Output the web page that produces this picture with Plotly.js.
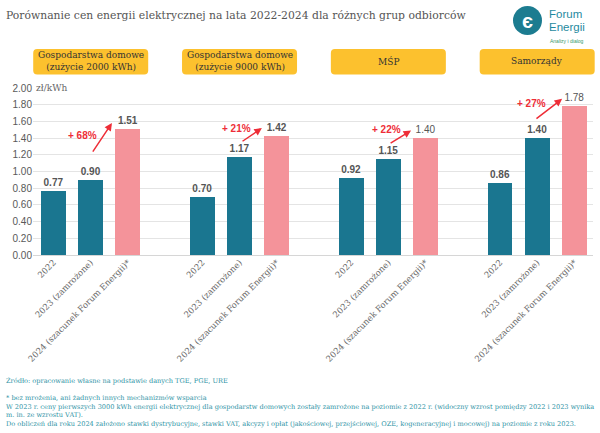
<!DOCTYPE html>
<html>
<head>
<meta charset="utf-8">
<script src="https://cdn.plot.ly/plotly-3.0.1.min.js"></script>
<style>html,body{margin:0;padding:0;background:#fff;}#chart{width:600px;height:433px;}</style>
</head>
<body>
<div id="chart"></div>
<script>
// ---- data ----
const groups = ["Gospodarstwa domowe<br>(zużycie 2000 kWh)", "Gospodarstwa domowe<br>(zużycie 9000 kWh)", "MŚP", "Samorządy"];
const periods = ["2022", "2023 (zamrożone)", "2024 (szacunek Forum Energii)*"];
const v2022 = [0.77, 0.70, 0.92, 0.86];
const v2023 = [0.90, 1.17, 1.15, 1.40];
const v2024 = [1.51, 1.42, 1.40, 1.78];
const increases = ["+ 68%", "+ 21%", "+ 22%", "+ 27%"];
const yTicks = [0, 0.2, 0.4, 0.6, 0.8, 1.0, 1.2, 1.4, 1.6, 1.8, 2.0];
const unitLabel = "zł/kWh";
const title = "Porównanie cen energii elektrycznej na lata 2022-2024 dla różnych grup odbiorców";
const footer = [
  "Źródło: opracowanie własne na podstawie danych TGE, PGE, URE",
  "* bez mrożenia, ani żadnych innych mechanizmów wsparcia",
  "W 2023 r. ceny pierwszych 3000 kWh energii elektrycznej dla gospodarstw domowych zostały zamrożone na poziomie z 2022 r. (widoczny wzrost pomiędzy 2022 i 2023 wynika",
  "m. in. ze wzrostu VAT).",
  "Do obliczeń dla roku 2024 założono stawki dystrybucyjne, stawki VAT, akcyzy i opłat (jakościowej, przejściowej, OZE, kogeneracyjnej i mocowej) na poziomie z roku 2023."
];

// ---- layout helpers ----
const W = 600, H = 433, ML = 33, MR = 7, MT = 88, MB = 178;
const PW = W - ML - MR, PH = H - MT - MB;
const px = x => (x - ML) / PW;
const py = y => (H - MB - y) / PH;

const TEAL = "#1a7690", PINK = "#f4939a", RED = "#ee2d37", YEL = "#fcc12e";
const SERIF = "DejaVu Serif, serif";
const SANS = "Liberation Sans, Arial, sans-serif";

const tealX = [], tealY = [], pinkX = [], pinkY = [];
const tickvals = [], ticktext = [];
groups.forEach((g, i) => {
  const base = i * 4;
  tealX.push(base, base + 1); tealY.push(v2022[i], v2023[i]);
  pinkX.push(base + 2); pinkY.push(v2024[i]);
  periods.forEach((p, j) => { tickvals.push(base + j); ticktext.push(p); });
});

const barCommon = {
  type: "bar", width: 0.67, textposition: "outside", cliponaxis: false,
  texttemplate: "%{y:.2f}", hoverinfo: "skip",
  textfont: {family: SANS, size: 10, color: "#555", weight: "bold"}
};
const traces = [
  Object.assign({}, barCommon, {x: tealX, y: tealY, marker: {color: TEAL}}),
  Object.assign({}, barCommon, {x: pinkX, y: pinkY, marker: {color: PINK},
    textfont: {family: SANS, size: 10, color: "#555", weight: ["bold", "bold", "normal", "normal"]}})
];

const annotations = [];
const shapes = [];
function note(x, y, text, font, extra) {
  annotations.push(Object.assign({xref: "paper", yref: "paper", x: px(x), y: py(y), text: text, showarrow: false,
    xanchor: "center", yanchor: "middle", font: font}, extra || {}));
}

// title
note(4, 16, title, {family: SERIF, size: 10.8, color: "#555"}, {xanchor: "left"});

// logo
shapes.push({type: "circle", xref: "paper", yref: "paper", x0: px(513), x1: px(542), y0: py(6), y1: py(35),
  fillcolor: "#1c7c90", line: {width: 0}});
note(527.5, 20.5, "<b>є</b>", {family: SANS, size: 20, color: "#fff"});
note(547, 14, "Forum", {family: SANS, size: 11.5, color: "#1f8aa0"}, {xanchor: "left"});
note(547, 27, "Energii", {family: SANS, size: 11.5, color: "#1f8aa0"}, {xanchor: "left"});
note(548, 41, "Analizy i dialog", {family: SANS, size: 5, color: "#3a9a6a"}, {xanchor: "left"});

// header boxes
function roundRect(x0, y0, x1, y1, r) {
  const P = (x, y) => px(x) + "," + py(y);
  return "M" + P(x0 + r, y0) + " L" + P(x1 - r, y0) + " Q" + P(x1, y0) + " " + P(x1, y0 + r) +
    " L" + P(x1, y1 - r) + " Q" + P(x1, y1) + " " + P(x1 - r, y1) +
    " L" + P(x0 + r, y1) + " Q" + P(x0, y1) + " " + P(x0, y1 - r) +
    " L" + P(x0, y0 + r) + " Q" + P(x0, y0) + " " + P(x0 + r, y0) + " Z";
}
const xToPx = x => ML + (x + 0.551) / 15.051 * PW;
groups.forEach((g, i) => {
  const c = xToPx(i * 4 + 1);
  shapes.push({type: "path", xref: "paper", yref: "paper", path: roundRect(c - 57.5, 49, c + 57.5, 74.5, 4),
    fillcolor: YEL, line: {width: 0}});
  note(c, 61.5, g, {family: SERIF, size: 9, color: "#333"});
});

// unit label
annotations.push({xref: "paper", yref: "y", x: 0, y: 2.0, xanchor: "left", yanchor: "middle", text: unitLabel,
  showarrow: false, bgcolor: "#fff", borderpad: 2, font: {family: SERIF, size: 9, color: "#666"}});

// increase arrows and labels
const arrowTail = [[1.03, 1.22], [5.04, 1.35], [9.02, 1.33], [12.94, 1.62]];
const arrowHead = [[1.57, 1.58], [5.60, 1.52], [9.61, 1.49], [13.67, 1.87]];
const pctPos = [[0.79, 1.43], [4.93, 1.51], [8.96, 1.50], [12.86, 1.82]];
increases.forEach((t, i) => {
  annotations.push({xref: "x", yref: "y", axref: "x", ayref: "y", x: arrowHead[i][0], y: arrowHead[i][1],
    ax: arrowTail[i][0], ay: arrowTail[i][1], text: "", showarrow: true, arrowhead: 2, arrowsize: 1,
    arrowwidth: 1.5, arrowcolor: RED, standoff: 0, startstandoff: 0});
  annotations.push({xref: "x", yref: "y", x: pctPos[i][0], y: pctPos[i][1], text: "<b>" + t + "</b>", showarrow: false,
    xanchor: "center", yanchor: "middle", font: {family: SANS, size: 10, color: RED}});
});

// footer
const footY = [380, 398, 406.5, 415, 424];
footer.forEach((t, i) => {
  note(4, footY[i], t, {family: SERIF, size: 6.6, color: "#2f94a6"}, {xanchor: "left"});
});

const layout = {
  width: W, height: H, margin: {l: ML, r: MR, t: MT, b: MB, pad: 0},
  paper_bgcolor: "#fff", plot_bgcolor: "#fff", showlegend: false, bargap: 0,
  xaxis: {type: "linear", range: [-0.551, 14.5], tickvals: tickvals, ticktext: ticktext, tickangle: -45,
    showgrid: false, zeroline: false, showline: false, ticks: "", fixedrange: true,
    tickfont: {family: SERIF, size: 8.5, color: "#666"}},
  yaxis: {range: [0, 2.0], tickvals: yTicks, tickformat: ".2f", showgrid: true, gridcolor: "#e4e4e4", gridwidth: 1,
    zeroline: true, zerolinecolor: "#d6d6d6", showline: false, ticks: "", fixedrange: true,
    tickfont: {family: SANS, size: 10, color: "#595959"}},
  shapes: shapes, annotations: annotations
};

Plotly.newPlot("chart", traces, layout, {displayModeBar: false, staticPlot: true});
</script>
</body>
</html>
